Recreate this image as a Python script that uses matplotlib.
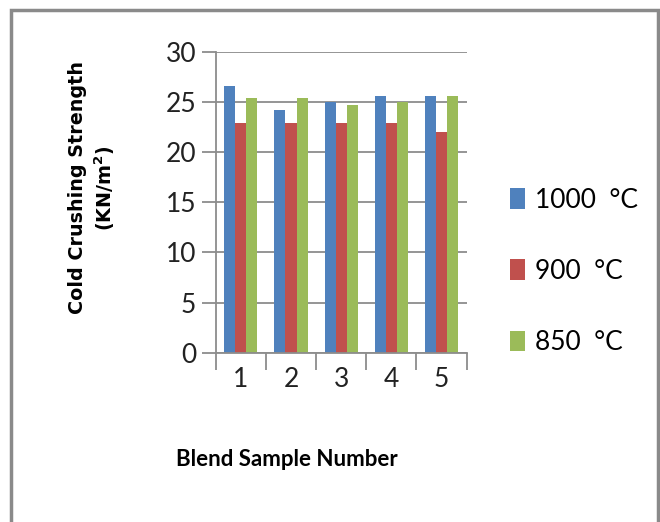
import numpy as np
import matplotlib
matplotlib.use("Agg")
import matplotlib.pyplot as plt
from matplotlib.patches import Rectangle

# blend sample numbers and cold crushing strength per firing temperature
samples = [1, 2, 3, 4, 5]
series_names = ["1000  °C", "900  °C", "850  °C"]
s1000 = [26.6, 24.2, 25.0, 25.6, 25.6]
s900 = [22.9, 22.9, 22.9, 22.9, 22.0]
s850 = [25.4, 25.4, 24.7, 25.0, 25.6]
yticks = [0, 5, 10, 15, 20, 25, 30]

colors = ["#4F81BD", "#C0504D", "#9BBB59"]
tickfont = ["Lato", "DejaVu Sans"]

fig = plt.figure(figsize=(6.6, 5.22), dpi=100)
ax = fig.add_axes([0.3268, 0.3243, 0.3803, 0.576])

x = np.arange(len(samples))
w = 0.22
for i, vals in enumerate([s1000, s900, s850]):
    ax.bar(x + (i - 1) * w, vals, width=w, color=colors[i], label=series_names[i], zorder=3)

ax.set_ylim(0, 30)
ax.set_xlim(-0.5, len(samples) - 0.5)
ax.set_yticks(yticks)
ax.set_yticklabels([str(t) for t in yticks], family=tickfont, fontsize=19, color="#222222")
ax.yaxis.grid(True, color="#8c8c8c", linewidth=1.3, zorder=0)
ax.tick_params(axis="y", length=10, width=1.3, color="#8c8c8c", pad=4, direction="out")

# category boundaries as major ticks, labels at centres
ax.set_xticks(np.arange(len(samples) + 1) - 0.5)
ax.set_xticklabels([])
ax.set_xticks(x, minor=True)
ax.set_xticklabels([str(s) for s in samples], minor=True, family=tickfont, fontsize=19, color="#222222")
ax.tick_params(axis="x", which="major", length=12, width=1.3, color="#8c8c8c", direction="out")
ax.tick_params(axis="x", which="minor", length=0, pad=10)

for side in ["top", "right"]:
    ax.spines[side].set_visible(False)
for side in ["left", "bottom"]:
    ax.spines[side].set_color("#8c8c8c")
    ax.spines[side].set_linewidth(1.3)
ax.spines["bottom"].set_zorder(4)

fig.text(0.435, 0.119, "Blend Sample Number", ha="center", va="center",
         family=tickfont, fontsize=16, fontweight="bold")
fig.text(0.14, 0.64, "Cold Crushing Strength\n(KN/m$\\mathregular{^2}$)", rotation=90,
         ha="center", va="center", fontsize=13.8, fontweight="bold", family="DejaVu Sans",
         linespacing=1.25, multialignment="center")

leg = fig.legend(loc="center left", bbox_to_anchor=(0.752, 0.48), frameon=False,
                 prop={"family": tickfont, "size": 19}, handlelength=0.6, handleheight=0.84,
                 handletextpad=0.35, labelspacing=1.75, borderpad=0)

# outer chart frame
fig.patches.append(Rectangle((0.017, -0.05), 0.98, 1.03, transform=fig.transFigure,
                             fill=False, edgecolor="#8a8a8a", linewidth=2.5))

fig.savefig("out.png", dpi=100)
